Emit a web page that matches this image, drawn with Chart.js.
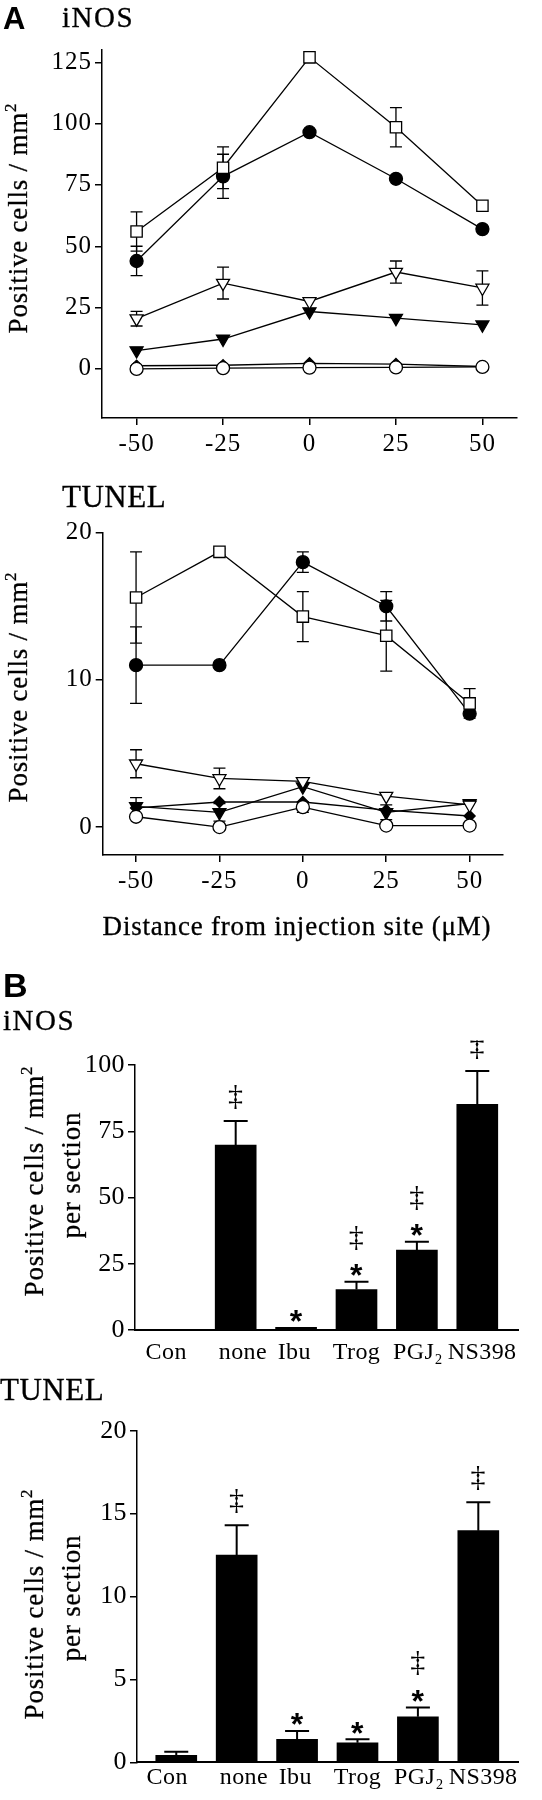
<!DOCTYPE html>
<html>
<head>
<meta charset="utf-8">
<script src="https://cdn.jsdelivr.net/npm/chart.js@4.4.1/dist/chart.umd.min.js"></script>
<style>
  body { margin: 0; background: #fff; }
  #page { position: relative; width: 542px; height: 1800px; }
  canvas { position: absolute; left: 0; }
  svg { position: absolute; left: 0; top: 0; pointer-events: none; }
  .serif { font-family: "Liberation Serif", "Times New Roman", serif; fill: #000; stroke: #000; stroke-width: 0.3; }
  .sans { font-family: "Liberation Sans", Arial, sans-serif; font-weight: bold; fill: #000; }
</style>
</head>
<body>
<div id="page">
  <canvas id="inosLine" width="542" height="440" style="top:40px"></canvas>
  <canvas id="tunelLine" width="542" height="440" style="top:480px"></canvas>
  <canvas id="inosBar" width="542" height="340" style="top:1040px"></canvas>
  <canvas id="tunelBar" width="542" height="420" style="top:1380px"></canvas>
  <svg width="542" height="1800">
    <text class="sans" x="3" y="29" font-size="31">A</text>
    <text class="serif" x="62" y="27" font-size="29" letter-spacing="1.5">iNOS</text>
    <text class="serif" x="27" y="218" font-size="27" letter-spacing="0.8" text-anchor="middle" transform="rotate(-90 27 218)">Positive cells / mm<tspan font-size="17" dy="-11">2</tspan></text>
    <text class="serif" x="62" y="507" font-size="31" letter-spacing="0.5">TUNEL</text>
    <text class="serif" x="27" y="687" font-size="27" letter-spacing="0.8" text-anchor="middle" transform="rotate(-90 27 687)">Positive cells / mm<tspan font-size="17" dy="-11">2</tspan></text>
    <text class="serif" x="297" y="935" font-size="27" letter-spacing="0.8" text-anchor="middle">Distance from injection site (μM)</text>
    <text class="sans" x="3" y="997" font-size="34">B</text>
    <text class="serif" x="3" y="1030" font-size="29" letter-spacing="1.5">iNOS</text>
    <text class="serif" x="43" y="1181" font-size="27" letter-spacing="0.8" text-anchor="middle" transform="rotate(-90 43 1181)">Positive cells / mm<tspan font-size="17" dy="-11">2</tspan></text>
    <text class="serif" x="80" y="1175" font-size="27" letter-spacing="0.8" text-anchor="middle" transform="rotate(-90 80 1175)">per section</text>
    <text class="serif" x="0" y="1400" font-size="31" letter-spacing="0.5">TUNEL</text>
    <text class="serif" x="43" y="1604" font-size="27" letter-spacing="0.8" text-anchor="middle" transform="rotate(-90 43 1604)">Positive cells / mm<tspan font-size="17" dy="-11">2</tspan></text>
    <text class="serif" x="80" y="1598" font-size="27" letter-spacing="0.8" text-anchor="middle" transform="rotate(-90 80 1598)">per section</text>
  </svg>
</div>
<script>
// distance from injection site
const distance = [-50, -25, 0, 25, 50];
const distanceTicks = [-50, -25, 0, 25, 50];

// panel A, iNOS
const inosTicks = [0, 25, 50, 75, 100, 125];
const inosOpenSquare = [56, 82, 127, 98.5, 66.5];
const inosOpenSquareErr = [8, 8.5, 0, 8, 0];
const inosFilledCircle = [44, 78.5, 96.5, 77.5, 57];
const inosFilledCircleErr = [6, 9, 0, 0, 0];
const inosOpenTriangle = [20.5, 35, 27.5, 39.5, 33];
const inosOpenTriangleErr = [3, 6.5, 0, 4.5, 7];
const inosFilledTriangle = [7.5, 12.2, 23.4, 20.7, 18];
const inosFilledDiamond = [1.3, 1.5, 2.3, 2, 1];
const inosOpenCircle = [0, 0.3, 0.5, 0.6, 0.8];

// panel A, TUNEL
const tunelTicks = [0, 10, 20];
const tunelOpenSquare = [15.6, 18.7, 14.3, 13.0, 8.4];
const tunelOpenSquareErr = [3.1, 0.2, 1.7, 2.4, 1.0];
const tunelFilledCircle = [11.0, 11.0, 18.0, 15.0, 7.7];
const tunelFilledCircleErr = [2.6, 0, 0.7, 1.0, 0];
const tunelOpenTriangle = [4.3, 3.3, 3.1, 2.1, 1.5];
const tunelOpenTriangleErr = [0.95, 0.7, 0, 0, 0];
const tunelFilledTriangle = [1.4, 1.0, 2.75, 1.0, 1.6];
const tunelFilledTriangleErr = [0.6, 0.6, 0, 0.5, 0];
const tunelFilledDiamond = [1.3, 1.7, 1.7, 1.15, 0.75];
const tunelOpenCircle = [0.7, 0, 1.35, 0.1, 0.1];
const tunelOpenCircleErr = [0, 0, 0.35, 0, 0];

// panel B
const treatments = ["Con", "none", "Ibu", "Trog", "PGJ₂", "NS398"];
const inosBarTicks = [0, 25, 50, 75, 100];
const inosBars = [0, 69.8, 1, 15.3, 30.2, 85.2];
const inosBarErr = [0, 9.1, 0, 2.9, 3.1, 12.5];
const inosBarMarks = ["", "‡", "*", "*‡", "*‡", "‡"];
const tunelBarTicks = [0, 5, 10, 15, 20];
const tunelBars = [0.42, 12.5, 1.39, 1.18, 2.75, 13.97];
const tunelBarErr = [0.22, 1.8, 0.5, 0.21, 0.55, 1.71];
const tunelBarMarks = ["", "‡", "*", "*", "*‡", "‡"];

const SERIF = '"Liberation Serif", "Times New Roman", serif';
const SANS = '"Liberation Sans", Arial, sans-serif';

// small horizontal nudge of each category label, in category units
const labelNudge = [-0.15, 0.12, -0.03, 0, 0.02, 0.08];

Chart.defaults.font.family = SERIF;
Chart.defaults.color = "#000";

function spacing(px) {
  return {
    id: "spacing",
    beforeDraw(chart) {
      chart.ctx.letterSpacing = px;
    },
  };
}

// symmetric error bars for the line panels
const errorBars = {
  id: "errorBars",
  beforeDatasetsDraw(chart) {
    const { ctx } = chart;
    const x = chart.scales.x;
    const y = chart.scales.y;
    ctx.save();
    ctx.strokeStyle = "#000";
    ctx.lineWidth = 1.3;
    chart.data.datasets.forEach((ds) => {
      if (!ds.err) return;
      ds.data.forEach((p, i) => {
        const e = ds.err[i];
        if (!e) return;
        const px = x.getPixelForValue(p.x);
        const top = y.getPixelForValue(p.y + e);
        const bottom = y.getPixelForValue(p.y - e);
        ctx.beginPath();
        ctx.moveTo(px, top);
        ctx.lineTo(px, bottom);
        ctx.moveTo(px - 6, top);
        ctx.lineTo(px + 6, top);
        ctx.moveTo(px - 6, bottom);
        ctx.lineTo(px + 6, bottom);
        ctx.stroke();
      });
    });
    ctx.restore();
  },
};

// upper error bars and significance marks for the bar panels
const barMarks = {
  id: "barMarks",
  afterDatasetsDraw(chart) {
    const { ctx } = chart;
    const x = chart.scales.x;
    const y = chart.scales.y;
    const ds = chart.data.datasets[0];
    ctx.save();
    ctx.strokeStyle = "#000";
    ctx.fillStyle = "#000";
    ctx.lineWidth = 2;
    ctx.textAlign = "center";
    ds.data.forEach((p, i) => {
      const px = x.getPixelForValue(p.x);
      const e = ds.err[i];
      const top = y.getPixelForValue(p.y + e);
      if (e) {
        ctx.beginPath();
        ctx.moveTo(px, y.getPixelForValue(p.y));
        ctx.lineTo(px, top);
        ctx.moveTo(px - 12, top);
        ctx.lineTo(px + 12, top);
        ctx.stroke();
      }
      let cursor = top - 4;
      for (const ch of ds.marks[i]) {
        if (ch === "*") {
          ctx.font = "bold 32px " + SANS;
          ctx.fillText("*", px, cursor - 10 + 18.4);
          cursor -= 20;
        } else {
          ctx.font = "30px " + SERIF;
          ctx.fillText("‡", px, cursor - 20 + 7.8);
          cursor -= 40;
        }
      }
    });
    ctx.restore();
  },
};

function yAxis(min, max, ticks, width, size) {
  return {
    type: "linear",
    min: min,
    max: max,
    afterBuildTicks: (s) => { s.ticks = ticks.map((v) => ({ value: v })); },
    afterFit: (s) => { s.width = width; s.paddingTop = 0; s.paddingBottom = 0; },
    grid: { drawOnChartArea: false, drawTicks: true, tickLength: 7, color: "#000", lineWidth: 1.5 },
    border: { color: "#000", width: 1.5 },
    ticks: { color: "#000", font: { size: size, family: SERIF }, padding: 3, autoSkip: false },
  };
}

function xDistance(height) {
  return {
    type: "linear",
    min: -60,
    max: 60,
    afterBuildTicks: (s) => { s.ticks = distanceTicks.map((v) => ({ value: v })); },
    afterFit: (s) => { s.height = height; s.paddingLeft = 0; s.paddingRight = 0; },
    grid: { drawOnChartArea: false, drawTicks: true, tickLength: 7, color: "#000", lineWidth: 1.5 },
    border: { color: "#000", width: 1.5 },
    ticks: { color: "#000", font: { size: 25, family: SERIF }, padding: 4.5, autoSkip: false, maxRotation: 0 },
  };
}

function series(values, err, style, radius, fill, rotation) {
  return {
    data: distance.map((d, i) => ({ x: d, y: values[i] })),
    err: err,
    borderColor: "#000",
    borderWidth: 1.3,
    pointStyle: style,
    pointRadius: radius,
    pointRotation: rotation || 0,
    pointBackgroundColor: fill,
    pointBorderColor: "#000",
    pointBorderWidth: 1.3,
    tension: 0,
    clip: false,
  };
}

function lineChart(id, sets, yMin, yMax, yTicks, yWidth, xHeight, padding) {
  return new Chart(document.getElementById(id), {
    type: "line",
    data: {
      datasets: [
        series(sets.openCircle, sets.openCircleErr, "circle", 6.5, "#fff"),
        series(sets.openSquare, sets.openSquareErr, "rect", 8, "#fff"),
        series(sets.filledCircle, sets.filledCircleErr, "circle", 6.5, "#000"),
        series(sets.openTriangle, sets.openTriangleErr, "triangle", 7.5, "#fff", 180),
        series(sets.filledTriangle, sets.filledTriangleErr, "triangle", 7.5, "#000", 180),
        series(sets.filledDiamond, null, "rectRot", 5.5, "#000"),
      ],
    },
    options: {
      responsive: false,
      devicePixelRatio: 1,
      animation: false,
      events: [],
      layout: { padding: padding },
      plugins: { legend: { display: false }, tooltip: { enabled: false } },
      scales: {
        x: xDistance(xHeight),
        y: yAxis(yMin, yMax, yTicks, yWidth, 25),
      },
    },
    plugins: [spacing("1px"), errorBars],
  });
}

function barChart(id, values, err, marks, yMax, yTicks, yWidth, xHeight, xMin, xMax, labelPad, padding) {
  return new Chart(document.getElementById(id), {
    type: "bar",
    data: {
      datasets: [{
        data: treatments.map((t, i) => ({ x: i, y: values[i] })),
        err: err,
        marks: marks,
        backgroundColor: "#000",
        borderWidth: 0,
        barThickness: 41,
      }],
    },
    options: {
      responsive: false,
      devicePixelRatio: 1,
      animation: false,
      events: [],
      layout: { padding: padding },
      plugins: { legend: { display: false }, tooltip: { enabled: false } },
      scales: {
        x: {
          type: "linear",
          offset: false,
          min: xMin,
          max: xMax,
          afterBuildTicks: (s) => { s.ticks = treatments.map((t, i) => ({ value: i + labelNudge[i] })); },
          afterFit: (s) => { s.height = xHeight; s.paddingLeft = 0; s.paddingRight = 0; },
          grid: { display: false, drawTicks: false },
          border: { color: "#000", width: 2 },
          ticks: {
            color: "#000",
            font: { size: 24, family: SERIF },
            padding: labelPad,
            autoSkip: false,
            maxRotation: 0,
            callback: (v, i) => treatments[i],
          },
        },
        y: yAxis(0, yMax, yTicks, yWidth, 26),
      },
    },
    plugins: [spacing("0.4px"), barMarks],
  });
}

lineChart("inosLine", {
  openSquare: inosOpenSquare, openSquareErr: inosOpenSquareErr,
  filledCircle: inosFilledCircle, filledCircleErr: inosFilledCircleErr,
  openTriangle: inosOpenTriangle, openTriangleErr: inosOpenTriangleErr,
  filledTriangle: inosFilledTriangle, filledTriangleErr: null,
  filledDiamond: inosFilledDiamond,
  openCircle: inosOpenCircle, openCircleErr: null,
}, -20, 130, inosTicks, 102, 62, { top: 10, left: 0, right: 25, bottom: 0 });

lineChart("tunelLine", {
  openSquare: tunelOpenSquare, openSquareErr: tunelOpenSquareErr,
  filledCircle: tunelFilledCircle, filledCircleErr: tunelFilledCircleErr,
  openTriangle: tunelOpenTriangle, openTriangleErr: tunelOpenTriangleErr,
  filledTriangle: tunelFilledTriangle, filledTriangleErr: tunelFilledTriangleErr,
  filledDiamond: tunelFilledDiamond,
  openCircle: tunelOpenCircle, openCircleErr: tunelOpenCircleErr,
}, -1.9, 20, tunelTicks, 102.7, 65, { top: 52.7, left: 0, right: 39, bottom: 0 });

barChart("inosBar", inosBars, inosBarErr, inosBarMarks, 100, inosBarTicks, 135, 50,
  -0.667, 5.674, 8.7, { top: 25, left: 0, right: 24, bottom: 0 });

barChart("tunelBar", tunelBars, tunelBarErr, tunelBarMarks, 20, tunelBarTicks, 137, 37.7,
  -0.65, 5.657, 0.7, { top: 50.7, left: 0, right: 24, bottom: 0 });
</script>
</body>
</html>
